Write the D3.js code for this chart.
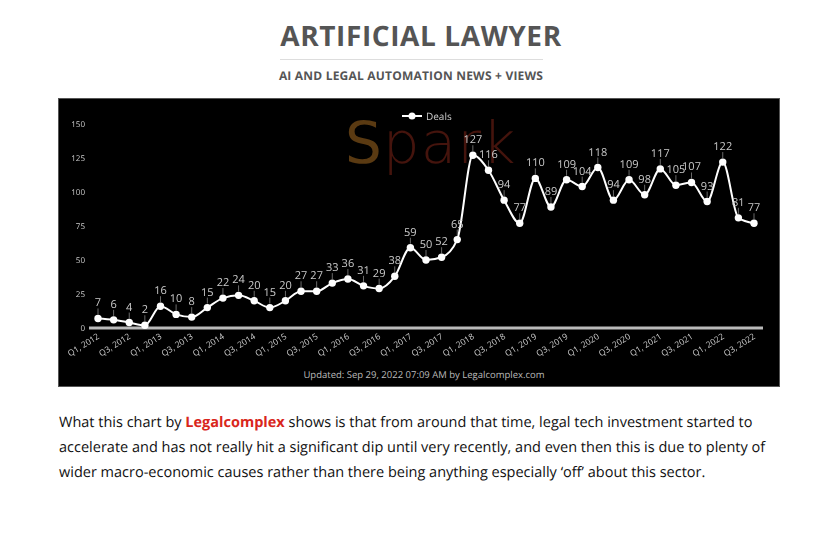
<!DOCTYPE html>
<html>
<head>
<meta charset="utf-8">
<script src="https://cdn.jsdelivr.net/npm/d3@7"></script>
<style>
  body { margin: 0; background: #fff; }
  svg text { text-rendering: geometricPrecision; }
</style>
</head>
<body>
<div id="holder"></div>
<script>
// quarters and deal counts
var quarters = [];
var years = [2012, 2013, 2014, 2015, 2016, 2017, 2018, 2019, 2020, 2021, 2022];
years.forEach(function (y) {
  [1, 2, 3, 4].forEach(function (q) {
    if (y === 2022 && q === 4) return;
    quarters.push("Q" + q + ", " + y);
  });
});

var deals = [7, 6, 4, 2, 16, 10, 8, 15, 22, 24, 20, 15, 20, 27, 27, 33, 36, 31, 29, 38,
  59, 50, 52, 65, 127, 116, 94, 77, 110, 89, 109, 104, 118, 94, 109, 98, 117, 105, 107, 93,
  122, 81, 77];

var yTicks = [0, 25, 50, 75, 100, 125, 150];

var paragraph = [
  [{ t: "What this chart by " }, { t: "Legalcomplex", link: true }, { t: " shows is that from around that time, legal tech investment started to" }],
  [{ t: "accelerate and has not really hit a significant dip until very recently, and even then this is due to plenty of" }],
  [{ t: "wider macro-economic causes rather than there being anything especially \u2018off\u2019 about this sector." }]
];

var W = 836, H = 541;
var svg = d3.select("#holder").append("svg")
  .attr("width", W)
  .attr("height", H);

// header
svg.append("text")
  .attr("x", 421).attr("y", 46)
  .attr("text-anchor", "middle")
  .style("font-family", "'Open Sans', sans-serif")
  .style("font-weight", "700")
  .style("font-size", "28px")
  .style("letter-spacing", "0.6px")
  .style("fill", "#555")
  .text("ARTIFICIAL LAWYER");

svg.append("line")
  .attr("x1", 280).attr("x2", 543)
  .attr("y1", 59.5).attr("y2", 59.5)
  .style("stroke", "#ddd");

svg.append("text")
  .attr("x", 411).attr("y", 80)
  .attr("text-anchor", "middle")
  .style("font-family", "'Open Sans', sans-serif")
  .style("font-weight", "700")
  .style("font-size", "12px")
  .style("letter-spacing", "0.2px")
  .style("fill", "#555")
  .text("AI AND LEGAL AUTOMATION NEWS + VIEWS");

// black chart panel
svg.append("rect")
  .attr("x", 58.5).attr("y", 98.5)
  .attr("width", 721).attr("height", 288)
  .style("fill", "#000")
  .style("stroke", "#555");

// watermark
var wm = svg.append("text")
  .attr("x", 345).attr("y", 163)
  .style("font-family", "'DejaVu Sans', sans-serif")
  .style("font-weight", "200")
  .style("font-size", "58px")
  .style("letter-spacing", "1px")
  .style("fill", "#45140d");
wm.append("tspan").style("fill", "#5a3a12").style("font-weight", "400").text("S");
wm.append("tspan").text("park");

var x = d3.scaleLinear()
  .domain([0, quarters.length - 1])
  .range([98, 754]);

var y = d3.scaleLinear()
  .domain([0, 150])
  .range([328, 124]);

var g = svg.append("g").style("opacity", 0.999);

// y tick labels (no axis line)
g.selectAll(".ytick")
  .data(yTicks)
  .enter().append("text")
  .attr("x", 85)
  .attr("y", function (d) { return y(d) + 3; })
  .attr("text-anchor", "end")
  .style("font-family", "'Open Sans', sans-serif")
  .style("font-size", "8px")
  .style("fill", "#ccc")
  .text(function (d) { return d; });

// baseline
g.append("line")
  .attr("x1", 89).attr("x2", 763)
  .attr("y1", y(0)).attr("y2", y(0))
  .style("stroke", "#bbb")
  .style("stroke-width", 3);

// x tick labels, every other quarter
g.selectAll(".xtick")
  .data(quarters.filter(function (d, i) { return i % 2 === 0; }))
  .enter().append("text")
  .attr("transform", function (d) {
    var i = quarters.indexOf(d);
    return "translate(" + (x(i) + 2) + "," + (y(0) + 10) + ")rotate(-32)";
  })
  .attr("text-anchor", "end")
  .style("font-family", "'Open Sans', sans-serif")
  .style("font-size", "8.5px")
  .style("fill", "#ccc")
  .text(function (d) { return d; });

// line
var line = d3.line()
  .x(function (d, i) { return x(i); })
  .y(function (d) { return y(d); })
  .curve(d3.curveMonotoneX);

g.append("path")
  .datum(deals)
  .attr("d", line)
  .style("fill", "none")
  .style("stroke", "#fff")
  .style("stroke-width", 2);

// small connector ticks from labels to points
g.selectAll(".conn")
  .data(deals)
  .enter().append("line")
  .attr("x1", function (d, i) { return x(i); })
  .attr("x2", function (d, i) { return x(i); })
  .attr("y1", function (d) { return y(d) - 10; })
  .attr("y2", function (d) { return y(d) - 4; })
  .style("stroke", "#888")
  .style("stroke-width", 0.8);

g.selectAll(".dot")
  .data(deals)
  .enter().append("circle")
  .attr("cx", function (d, i) { return x(i); })
  .attr("cy", function (d) { return y(d); })
  .attr("r", 3.7)
  .style("fill", "#fff");

g.selectAll(".val")
  .data(deals)
  .enter().append("text")
  .attr("x", function (d, i) { return x(i); })
  .attr("y", function (d) { return y(d) - 12; })
  .attr("text-anchor", "middle")
  .style("font-family", "'Open Sans', sans-serif")
  .style("font-size", "11px")
  .style("fill", "#ccc")
  .text(function (d) { return d; });

// legend
var leg = svg.append("g").style("opacity", 0.999);
leg.append("line")
  .attr("x1", 402).attr("x2", 422)
  .attr("y1", 116).attr("y2", 116)
  .style("stroke", "#fff").style("stroke-width", 2);
leg.append("circle")
  .attr("cx", 412).attr("cy", 116).attr("r", 3.5)
  .style("fill", "#fff");
leg.append("text")
  .attr("x", 426).attr("y", 119.5)
  .style("font-family", "'Open Sans', sans-serif")
  .style("font-size", "10px")
  .style("fill", "#ccc")
  .text("Deals");

// footer
svg.append("text")
  .attr("x", 424).attr("y", 378)
  .attr("text-anchor", "middle")
  .style("font-family", "'Open Sans', sans-serif")
  .style("font-size", "9.5px")
  .style("fill", "#bbb")
  .text("Updated: Sep 29, 2022 07:09 AM by Legalcomplex.com");

// paragraph
var para = svg.append("g");
paragraph.forEach(function (parts, li) {
  var t = para.append("text")
    .attr("x", 59)
    .attr("y", 427 + li * 25)
    .style("font-family", "'Open Sans', sans-serif")
    .style("font-size", "14.5px")
    .style("fill", "#111");
  parts.forEach(function (p) {
    t.append("tspan")
      .style("fill", p.link ? "#d9261c" : "#111")
      .style("font-weight", p.link ? "700" : "400")
      .text(p.t);
  });
});
</script>
</body>
</html>
